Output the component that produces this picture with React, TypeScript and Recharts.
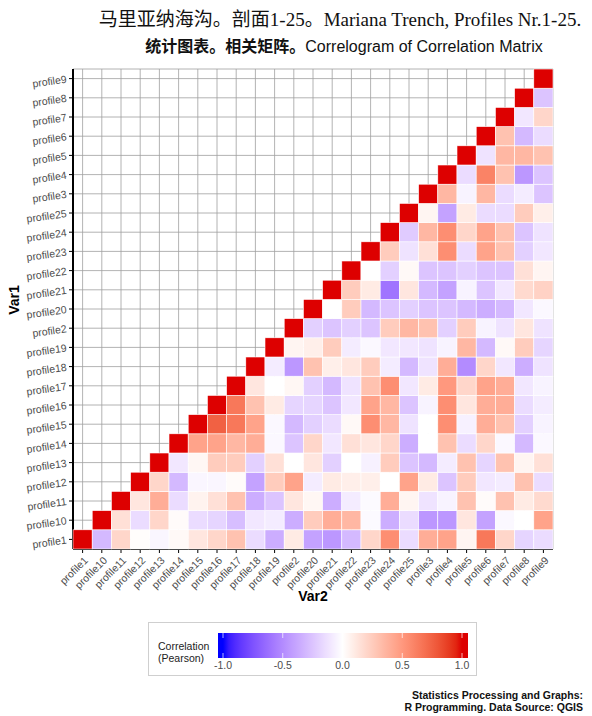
import React from "react";
import { ScatterChart, Scatter, XAxis, YAxis, CartesianGrid } from "recharts";

// order as drawn on both axes (alphabetical, like R sorts them)
const profiles = [
  "profile1", "profile10", "profile11", "profile12", "profile13", "profile14",
  "profile15", "profile16", "profile17", "profile18", "profile19", "profile2",
  "profile20", "profile21", "profile22", "profile23", "profile24", "profile25",
  "profile3", "profile4", "profile5", "profile6", "profile7", "profile8", "profile9",
];

// each row starts at the diagonal and runs to profile9
const rProfile1 = [1, -0.3, 0.2, 0.01, -0.04, 0.03, 0.12, 0.2, 0.3, -0.15, -0.35, 0.1, -0.4, -0.45, -0.3, 0.2, 0.55, -0.15, 0.4, 0.45, 0.05, 0.65, 0.2, -0.18, -0.15];
const rProfile10 = [1, 0.15, -0.15, 0.2, 0.02, -0.15, -0.18, -0.28, -0.1, -0.08, -0.35, 0.25, 0.4, 0.35, -0.02, -0.35, -0.15, -0.45, -0.45, 0.12, -0.4, -0.03, 0, 0.45];
const rProfile11 = [1, 0.12, 0.4, -0.15, 0.06, 0.15, 0.3, -0.35, -0.25, 0.12, 0.04, -0.35, -0.08, -0.02, 0.4, 0.05, -0.12, -0.05, 0.3, 0.02, 0.3, 0.1, 0.18];
const rProfile12 = [1, 0.2, -0.3, -0.04, -0.04, 0.02, -0.4, 0.25, 0.45, -0.08, 0.1, 0.08, 0.08, 0, 0.45, 0.1, -0.25, 0.25, -0.1, -0.08, 0.3, -0.15];
const rProfile13 = [1, -0.1, 0.04, 0.25, 0.25, -0.2, 0.15, 0, 0.12, -0.2, 0, -0.06, 0.25, -0.25, -0.3, -0.08, 0.3, -0.18, 0.3, 0.05, 0.15];
const rProfile14 = [1, 0.45, 0.45, 0.35, 0.4, -0.03, -0.25, 0.2, -0.1, 0.15, 0.12, 0.2, -0.35, 0, 0.3, -0.15, 0.2, -0.03, -0.3, -0.03];
const rProfile15 = [1, 0.75, 0.65, 0.45, -0.03, -0.3, -0.2, -0.15, 0.03, 0.55, 0.35, -0.12, 0, 0.55, -0.06, 0.4, 0.3, -0.2, -0.05];
const rProfile16 = [1, 0.65, 0.3, 0.1, -0.18, -0.18, -0.25, -0.1, 0.45, 0.35, -0.25, -0.05, 0.55, 0.12, 0.4, 0.4, -0.15, -0.08];
const rProfile17 = [1, 0.12, 0, 0.04, -0.2, -0.3, -0.12, 0.3, 0.55, -0.1, 0.1, 0.5, 0.2, 0.45, 0.4, -0.1, -0.05];
const rProfile18 = [1, -0.08, -0.45, 0.3, 0.08, 0.12, 0.25, -0.08, -0.3, -0.12, 0.4, -0.5, 0.2, -0.1, -0.35, -0.12];
const rProfile19 = [1, 0.05, 0.08, 0.25, -0.08, -0.03, -0.1, -0.1, -0.12, -0.05, 0.35, -0.3, 0.03, 0.25, -0.18];
const rProfile2 = [1, -0.2, -0.25, -0.2, -0.25, 0.25, 0.35, 0.3, -0.2, 0.25, -0.05, -0.12, 0.12, -0.12];
const rProfile20 = [1, 0, 0.25, -0.3, -0.25, -0.2, -0.25, -0.25, -0.3, -0.35, -0.3, -0.1, -0.03];
const rProfile21 = [1, 0.25, 0.1, -0.6, 0.12, -0.3, -0.4, -0.05, -0.25, -0.1, 0.18, 0.22];
const rProfile22 = [1, 0, -0.2, 0.03, -0.25, -0.25, -0.2, -0.25, -0.25, 0.15, 0.05];
const rProfile23 = [1, 0.25, -0.12, 0.15, 0.55, -0.15, 0.45, 0.3, -0.2, -0.1];
const rProfile24 = [1, -0.22, 0.35, 0.55, 0.2, 0.45, 0.3, -0.25, -0.12];
const rProfile25 = [1, 0.05, -0.4, 0.1, -0.15, -0.15, 0.25, 0.08];
const rProfile3 = [1, 0.35, -0.05, 0.35, -0.15, -0.08, -0.25];
const rProfile4 = [1, -0.15, 0.6, 0.3, -0.45, -0.25];
const rProfile5 = [1, -0.12, 0.35, 0.35, 0.3];
const rProfile6 = [1, 0.3, -0.3, -0.15];
const rProfile7 = [1, -0.1, 0.2];
const rProfile8 = [1, -0.25];
const rProfile9 = [1];

const corrRows = [
  rProfile1, rProfile10, rProfile11, rProfile12, rProfile13, rProfile14, rProfile15,
  rProfile16, rProfile17, rProfile18, rProfile19, rProfile2, rProfile20, rProfile21,
  rProfile22, rProfile23, rProfile24, rProfile25, rProfile3, rProfile4, rProfile5,
  rProfile6, rProfile7, rProfile8, rProfile9,
];

const legendTicks = [-1, -0.5, 0, 0.5, 1];

const cells = corrRows.flatMap((row, r) => row.map((v, k) => ({ x: r + k, y: r, v })));
const idx = profiles.map((_, i) => i);

// --- colours: white -> red / blue, mixed in Lab like scale_fill_gradient2
const LOW = [0, 0, 255];
const HIGH = [221, 0, 0];
const toLin = (c: number) => { c /= 255; return c <= 0.04045 ? c / 12.92 : Math.pow((c + 0.055) / 1.055, 2.4); };
const toGam = (c: number) => (c <= 0.0031308 ? 12.92 * c : 1.055 * Math.pow(c, 1 / 2.4) - 0.055);
function rgb2lab([R, G, B]: number[]) {
  const r = toLin(R), g = toLin(G), b = toLin(B);
  const X = (0.4124 * r + 0.3576 * g + 0.1805 * b) / 0.95047;
  const Y = 0.2126 * r + 0.7152 * g + 0.0722 * b;
  const Z = (0.0193 * r + 0.1192 * g + 0.9505 * b) / 1.08883;
  const f = (t: number) => (t > 0.008856 ? Math.cbrt(t) : 7.787 * t + 16 / 116);
  const fx = f(X), fy = f(Y), fz = f(Z);
  return [116 * fy - 16, 500 * (fx - fy), 200 * (fy - fz)];
}
function lab2rgb([L, a, bb]: number[]) {
  const fy = (L + 16) / 116, fx = fy + a / 500, fz = fy - bb / 200;
  const inv = (t: number) => (t * t * t > 0.008856 ? t * t * t : (t - 16 / 116) / 7.787);
  const X = inv(fx) * 0.95047, Y = inv(fy), Z = inv(fz) * 1.08883;
  const r = 3.2406 * X - 1.5372 * Y - 0.4986 * Z;
  const g = -0.9689 * X + 1.8758 * Y + 0.0415 * Z;
  const b = 0.0557 * X - 0.204 * Y + 1.057 * Z;
  return [r, g, b].map((c) => Math.round(Math.max(0, Math.min(1, toGam(c))) * 255));
}
const labWhite = rgb2lab([255, 255, 255]);
const labLow = rgb2lab(LOW);
const labHigh = rgb2lab(HIGH);
function fillFor(v: number) {
  const end = v >= 0 ? labHigh : labLow;
  const t = Math.min(1, Math.abs(v));
  const [r, g, b] = lab2rgb(labWhite.map((w, i) => w + (end[i] - w) * t));
  return `rgb(${r},${g},${b})`;
}

const CELL = 19.2;
const font = "'Liberation Sans', Arial, sans-serif";

function Tile(props: any) {
  const { cx, cy, payload } = props;
  return (
    <rect x={cx - CELL / 2} y={cy - CELL / 2} width={CELL} height={CELL}
      fill={fillFor(payload.v)} stroke="#ffffff" strokeWidth={0.6} />
  );
}

function XTick({ x, y, payload }: any) {
  return (
    <text x={0} y={0} transform={`translate(${x + 6},${y + 6}) rotate(-45)`}
      textAnchor="end" fontSize={10.5} fill="#4d4d4d" fontFamily={font}>
      {profiles[payload.value]}
    </text>
  );
}

function YTick({ x, y, payload }: any) {
  return (
    <text x={0} y={0} transform={`translate(${x},${y + 4}) rotate(-8)`}
      textAnchor="end" fontSize={10.5} fill="#4d4d4d" fontFamily={font}>
      {profiles[payload.value]}
    </text>
  );
}

function ColourBar() {
  const x0 = 223, x1 = 462;
  const stops = Array.from({ length: 41 }, (_, i) => -1 + i * 0.05);
  return (
    <svg width={592} height={80} style={{ position: "absolute", left: 0, top: 610 }}>
      <defs>
        <linearGradient id="cbar" x1={x0} x2={x1} y1={0} y2={0} gradientUnits="userSpaceOnUse">
          {stops.map((s, i) => (
            <stop key={i} offset={i / (stops.length - 1)} stopColor={fillFor(s)} />
          ))}
        </linearGradient>
      </defs>
      <rect x={148.5} y={12.5} width={328} height={53} fill="#fff" stroke="#cfcfcf" />
      <text x={158} y={40} fontSize={10.5} fontFamily={font} fill="#222">Correlation</text>
      <text x={158} y={52} fontSize={10.5} fontFamily={font} fill="#222">(Pearson)</text>
      <rect x={218} y={23} width={250} height={25} fill="url(#cbar)" />
      {legendTicks.map((t) => {
        const tx = x0 + ((t + 1) / 2) * (x1 - x0);
        return (
          <g key={t}>
            <line x1={tx} x2={tx} y1={23} y2={28} stroke="#fff" strokeOpacity={0.7} />
            <line x1={tx} x2={tx} y1={43} y2={48} stroke="#fff" strokeOpacity={0.7} />
            <text x={tx} y={59} textAnchor="middle" fontSize={10.5} fontFamily={font} fill="#4d4d4d">
              {t.toFixed(1)}
            </text>
          </g>
        );
      })}
    </svg>
  );
}

export default function App() {
  return (
    <div style={{ position: "absolute", left: 0, top: 0, width: 592, height: 716, background: "#fff" }}>
      <div style={{ position: "absolute", top: 4, left: 44, width: 592, textAlign: "center", fontSize: 19,
        fontFamily: "'Liberation Serif', 'Noto Sans CJK SC', serif", color: "#111", whiteSpace: "nowrap" }}>
        马里亚纳海沟。剖面1-25。Mariana Trench, Profiles Nr.1-25.
      </div>
      <div style={{ position: "absolute", top: 33, left: 48, width: 592, textAlign: "center", fontSize: 16,
        fontFamily: "'Liberation Sans', 'Noto Sans CJK SC', sans-serif", color: "#111", whiteSpace: "nowrap" }}>
        <span style={{ fontWeight: 700 }}>统计图表。相关矩阵。</span>Correlogram of Correlation Matrix
      </div>

      <ScatterChart width={592} height={716} margin={{ top: 69, right: 39, bottom: 117, left: 13 }}>
        <CartesianGrid stroke="#a0a0a0" strokeWidth={0.8} />
        <XAxis type="number" dataKey="x" domain={[-0.5, 24.5]} ticks={idx} interval={0}
          height={50} tick={<XTick />} tickSize={4} tickLine={{ stroke: "#000" }}
          axisLine={{ stroke: "#000", strokeWidth: 2 }} />
        <YAxis type="number" dataKey="y" domain={[-0.5, 24.5]} ticks={idx} interval={0}
          width={60} tick={<YTick />} tickSize={4} tickLine={{ stroke: "#000" }}
          axisLine={{ stroke: "#000", strokeWidth: 2 }} />
        <Scatter data={cells} shape={<Tile />} isAnimationActive={false} />
      </ScatterChart>

      <div style={{ position: "absolute", left: -16, top: 291, width: 60, height: 18, lineHeight: "18px",
        fontFamily: font, fontWeight: 700, fontSize: 14, transform: "rotate(-90deg)",
        transformOrigin: "center", textAlign: "center" }}>
        Var1
      </div>
      <div style={{ position: "absolute", left: 73, top: 588, width: 480, textAlign: "center", fontFamily: font,
        fontWeight: 700, fontSize: 14 }}>
        Var2
      </div>

      <ColourBar />

      <div style={{ position: "absolute", right: 9, top: 689, textAlign: "right", fontFamily: font,
        fontWeight: 700, fontSize: 10.5, lineHeight: "12px", color: "#111" }}>
        Statistics Processing and Graphs:<br />R Programming. Data Source: QGIS
      </div>
    </div>
  );
}
